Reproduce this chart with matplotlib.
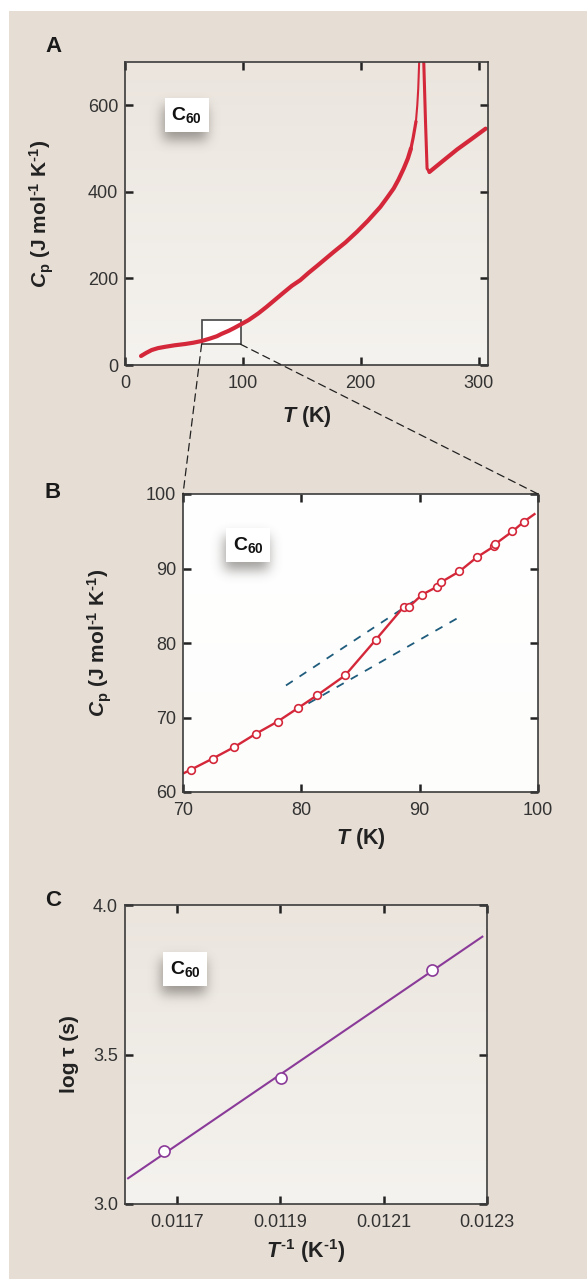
import numpy as np
import matplotlib
matplotlib.use("Agg")
import matplotlib.pyplot as plt
import matplotlib.colors as mcolors
from matplotlib.patches import Rectangle
from matplotlib.patches import ConnectionPatch

plt.rcParams['font.family'] = ['Liberation Sans', 'DejaVu Sans']
plt.rcParams['mathtext.fontset'] = 'custom'
plt.rcParams['mathtext.rm'] = 'Liberation Sans:bold'
plt.rcParams['mathtext.it'] = 'Liberation Sans:italic:bold'
plt.rcParams['mathtext.bf'] = 'Liberation Sans:bold'

# ===================== data =====================
# A: Cp(T) over the full range (main curve, lambda spike, high-T branch)
a_T_low = [13.6, 18, 22.7, 28, 34, 42, 51, 58, 65, 72, 78, 82, 88, 93, 97.7,
           105, 113, 120, 127, 134, 141.6, 148.7, 155.8, 163, 170, 177, 187,
           196.8, 206, 216.6, 222, 228, 232, 236.5, 240, 242.6]
a_cp_low = [20.8, 28, 34.6, 39, 42, 45.5, 48.5, 51.5, 55.4, 61, 66.5, 72, 79, 86, 93,
            104, 119, 134, 150, 166, 183, 196, 213, 229, 245, 261, 283,
            307.7, 333, 365, 385, 408, 428, 454, 477, 500]
a_T_rise = [242.6, 244.5, 246.8]
a_cp_rise = [500, 525, 561]
a_T_peak = [246.8, 248, 248.8, 249.6, 250.5, 252.5, 253.5]
a_cp_peak = [561, 600, 638, 700, 800, 800, 700]
a_T_drop = [253.5, 255, 256.3, 258.3]
a_cp_drop = [700, 560, 454, 446]
a_T_high = [258.3, 270, 281.8, 294, 306]
a_cp_high = [446, 472, 498, 522, 546]

# B: zoom on the glass transition region
b_T = [70.67, 72.5, 74.35, 76.14, 78.0, 79.7, 81.35, 83.7, 86.3, 88.64, 89.09,
       90.21, 91.45, 91.8, 93.35, 94.81, 96.3, 96.4, 97.84, 98.82]
b_cp = [63.0, 64.48, 66.05, 67.8, 69.46, 71.25, 73.0, 75.65, 80.45, 84.84, 84.84,
        86.5, 87.53, 88.16, 89.6, 91.48, 93.0, 93.3, 94.98, 96.3]
b_line_T = [70.1] + b_T + [99.7]
b_line_cp = [62.55] + b_cp + [97.3]
b_dash_upper_T = [78.7, 89.5]
b_dash_upper_cp = [74.3, 85.6]
b_dash_lower_T = [80.6, 93.6]
b_dash_lower_cp = [71.9, 83.7]

# C: relaxation time vs inverse temperature
c_invT = [0.011676, 0.011902, 0.012193]
c_logtau = [3.176, 3.422, 3.784]
c_fit_invT = [0.011606, 0.012291]
c_fit_logtau = [3.086, 3.894]

RED = '#d4283a'
PURPLE = '#8a3a98'
BLUE = '#1f5c7c'
BEIGE = '#e6ddd4'

W, H = 587, 1279
fig = plt.figure(figsize=(W / 100, H / 100), dpi=100, facecolor='white')
fig.patches.append(Rectangle((9 / W, 0), 1, (H - 11) / H, transform=fig.transFigure,
                             facecolor=BEIGE, edgecolor='none', zorder=-10))


def px_axes(left, right, top, bottom):
    return fig.add_axes([left / W, (H - bottom) / H, (right - left) / W, (bottom - top) / H])


def grad_bg(ax, top, bottom):
    g = np.linspace(0, 1, 256)[:, None, None]
    ct = np.array(mcolors.to_rgb(top))
    cb = np.array(mcolors.to_rgb(bottom))
    img = ct * (1 - g) + cb * g
    ax.imshow(img, extent=[0, 1, 0, 1], transform=ax.transAxes, aspect='auto',
              zorder=0, origin='upper', interpolation='bilinear')
    ax.set_facecolor('none')


def style(ax):
    for s in ax.spines.values():
        s.set_color('#3c3c3c')
        s.set_linewidth(1.2)
        s.set_zorder(5)
    ax.tick_params(direction='in', length=6, width=1.8, color='#222222',
                   top=True, right=True, labelsize=13, labelcolor='#333333')
    ax.tick_params(axis='x', pad=7)
    ax.tick_params(axis='y', pad=5)


def blur1d(a, sigma, axis):
    r = int(3 * sigma)
    k = np.exp(-0.5 * (np.arange(-r, r + 1) / sigma) ** 2)
    k /= k.sum()
    return np.apply_along_axis(lambda v: np.convolve(v, k, mode='same'), axis, a)


def c60_box(ax, x0, x1, y0, y1):
    # soft drop shadow as a blurred image, then the white label box
    bb = ax.get_position()
    wpx = bb.width * W
    hpx = bb.height * H
    m = 26
    bw = int(round((x1 - x0) * wpx))
    bh = int(round((y1 - y0) * hpx))
    a = np.zeros((bh + 2 * m, bw + 2 * m))
    dy, dx = 8, -2
    a[m + dy:m + dy + bh, m + dx:m + dx + bw] = 1.0
    a = blur1d(blur1d(a, 6.0, 0), 6.0, 1)
    rgba = np.zeros(a.shape + (4,))
    rgba[..., :3] = mcolors.to_rgb('#55504b')
    rgba[..., 3] = 0.55 * a
    ax.imshow(rgba, extent=[x0 - m / wpx, x1 + m / wpx, y0 - m / hpx, y1 + m / hpx],
              transform=ax.transAxes, aspect='auto', origin='upper', zorder=2,
              interpolation='bilinear')
    ax.add_patch(Rectangle((x0, y0), x1 - x0, y1 - y0, transform=ax.transAxes,
                           facecolor='white', edgecolor='none', zorder=3))
    ax.text((x0 + x1) / 2, (y0 + y1) / 2, r'C$_{60}$', transform=ax.transAxes,
            ha='center', va='center', fontsize=14, fontweight='bold',
            color='#111111', zorder=4)


CP_LABEL = r'$C_{\rm p}$ (J mol$^{\text{-}1}$ K$^{\text{-}1}$)'

# ===================== A =====================
axA = px_axes(125, 488, 62, 365)
grad_bg(axA, '#ebe5de', '#f5f3ef')
axA.plot(a_T_low, a_cp_low, color=RED, lw=3.0, solid_capstyle='round', zorder=4)
axA.plot(a_T_rise, a_cp_rise, color=RED, lw=2.3, zorder=4)
axA.plot(a_T_peak, a_cp_peak, color=RED, lw=1.5, zorder=4)
axA.plot(a_T_drop, a_cp_drop, color=RED, lw=2.2, zorder=4)
axA.plot(a_T_high, a_cp_high, color=RED, lw=3.0, solid_capstyle='round', zorder=4)
axA.add_patch(Rectangle((65, 48), 33, 56.5, facecolor='white', edgecolor='#444444',
                        lw=1.2, zorder=3))
axA.set_xlim(0, 308)
axA.set_ylim(0, 700)
axA.set_xticks([0, 100, 200, 300])
axA.set_yticks([0, 200, 400, 600])
style(axA)
axA.set_xlabel(r'$T$ (K)', fontsize=15.5, fontweight='bold', color='#222222')
axA.set_ylabel(CP_LABEL, fontsize=15, fontweight='bold', color='#222222')
axA.xaxis.set_label_coords(0.5, -0.13)
axA.yaxis.set_label_coords(-0.19, 0.5)
c60_box(axA, 0.110, 0.231, 0.769, 0.881)

# ===================== B =====================
axB = px_axes(183, 538, 494, 792)
grad_bg(axB, '#ffffff', '#fdfdfc')
axB.plot(b_dash_upper_T, b_dash_upper_cp, color=BLUE, lw=1.3,
         linestyle=(0, (4.5, 4.5)), zorder=3)
axB.plot(b_dash_lower_T, b_dash_lower_cp, color=BLUE, lw=1.3,
         linestyle=(0, (4.5, 4.5)), zorder=3)
axB.plot(b_line_T, b_line_cp, color=RED, lw=1.7, zorder=4)
axB.plot(b_T, b_cp, linestyle='none', marker='o', ms=5.5, mfc='white', mec=RED,
         mew=1.2, zorder=5)
axB.set_xlim(70, 100)
axB.set_ylim(60, 100)
axB.set_xticks([70, 80, 90, 100])
axB.set_yticks([60, 70, 80, 90, 100])
style(axB)
axB.set_xlabel(r'$T$ (K)', fontsize=15.5, fontweight='bold', color='#222222')
axB.set_ylabel(CP_LABEL, fontsize=15, fontweight='bold', color='#222222')
axB.xaxis.set_label_coords(0.5, -0.113)
axB.yaxis.set_label_coords(-0.194, 0.5)
c60_box(axB, 0.121, 0.245, 0.772, 0.886)

# connector lines from the zoom box in A to the corners of B
for xa, xb in [(65, 70), (98, 100)]:
    con = ConnectionPatch(xyA=(xa, 48), coordsA='data', axesA=axA,
                          xyB=(xb, 100), coordsB='data', axesB=axB,
                          color='#222222', lw=0.9, linestyle=(0, (6, 4)))
    fig.add_artist(con)

# ===================== C =====================
axC = px_axes(125, 487, 905, 1204)
grad_bg(axC, '#ebe5de', '#f5f3ef')
axC.plot(c_fit_invT, c_fit_logtau, color=PURPLE, lw=1.5, zorder=4)
axC.plot(c_invT, c_logtau, linestyle='none', marker='o', ms=8, mfc='white',
         mec=PURPLE, mew=1.2, zorder=5)
axC.set_xlim(0.0116, 0.0123)
axC.set_ylim(3.0, 4.0)
axC.set_xticks([0.0117, 0.0119, 0.0121, 0.0123])
axC.set_xticklabels(['0.0117', '0.0119', '0.0121', '0.0123'])
axC.set_yticks([3.0, 3.5, 4.0])
axC.set_yticklabels(['3.0', '3.5', '4.0'])
style(axC)
axC.set_xlabel(r'$T^{\text{-}1}$ (K$^{\text{-}1}$)', fontsize=15.5, fontweight='bold',
               color='#222222')
axC.set_ylabel('log τ (s)', fontsize=15, fontweight='bold', color='#222222')
axC.xaxis.set_label_coords(0.5, -0.11)
axC.yaxis.set_label_coords(-0.127, 0.5)
c60_box(axC, 0.105, 0.227, 0.729, 0.843)

# panel letters
for lab, y in [('A', 47), ('B', 493), ('C', 900)]:
    fig.text(53 / W, 1 - y / H, lab, fontsize=16, fontweight='bold',
             ha='center', va='center', color='#1a1a1a')

fig.savefig('out.png', dpi=100, facecolor='white')
